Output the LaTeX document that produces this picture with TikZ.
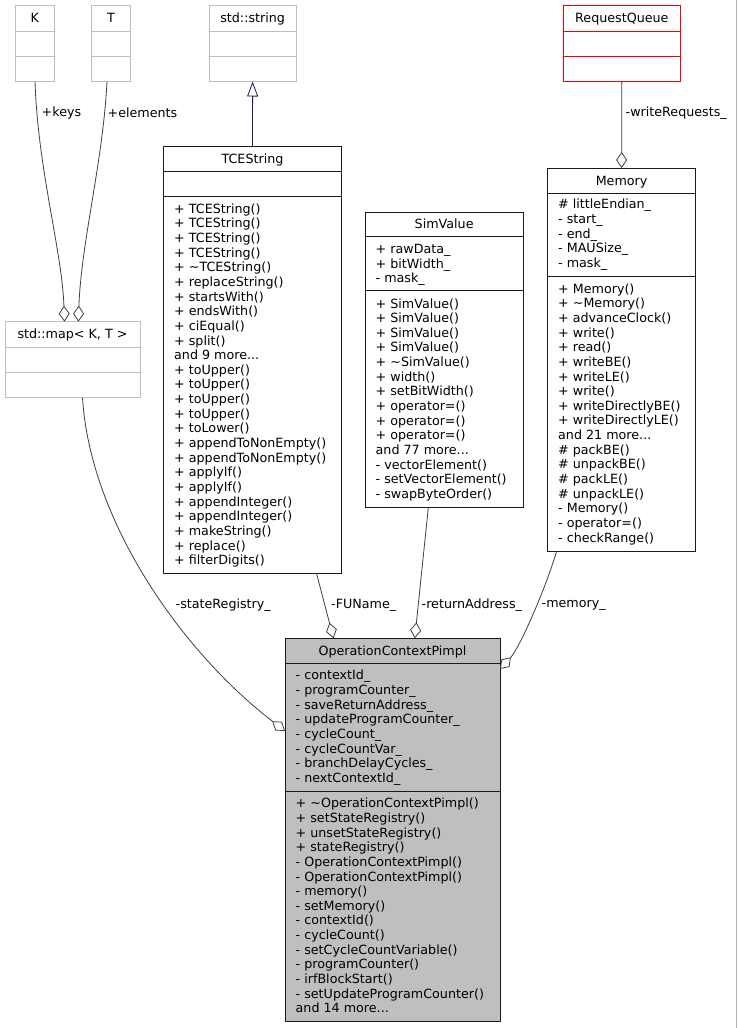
\documentclass[tikz,border=0pt]{standalone}
\usepackage{fontspec}
\setmainfont{DejaVu Sans}
\usetikzlibrary{arrows.meta,calc}
\newcommand\fs{\fontsize{12.7}{14.64}\selectfont}
\newcommand\compdiv[3]{\draw[#1,line width=1pt] ($(#2.north west)+(0,#3)$) -- ($(#2.north east)+(0,#3)$);}
\definecolor{edgegray}{HTML}{404040}
\definecolor{boxgray}{HTML}{BFBFBF}
\definecolor{ocpfill}{HTML}{BFBFBF}
\definecolor{navyedge}{HTML}{191970}
\definecolor{rqred}{HTML}{FF0000}
\definecolor{dark}{HTML}{1A1A1A}
\begin{document}
\begin{tikzpicture}[x=1pt,y=-1pt,
  box/.style={draw=dark, line width=1pt, anchor=north west, inner sep=0pt, outer sep=0pt, fill=white},
  gbox/.style={box, draw=boxgray},
  rbox/.style={box, draw=rqred},
  ttl/.style={anchor=base, inner sep=0pt, font=\fs},
  txt/.style={anchor=north west, inner sep=0pt, align=left, font=\fs},
  lbl/.style={anchor=west, inner sep=0pt, font=\fs},
  agg/.style={draw=edgegray, line width=0.8pt, -{Diamond[open,length=16pt,width=11pt]}},
  inh/.style={draw=navyedge, line width=0.8pt, -{Triangle[open,length=15pt,width=11pt]}}
]
\useasboundingbox (0,0) rectangle (737,1028);
\fill[white] (0,0) rectangle (737,1028);
\draw[gray!60, line width=1pt] (736.5,0) -- (736.5,1028);

% K
\node[gbox, minimum width=38.8pt, minimum height=76pt] (k) at (15.5,5.5) {};
\compdiv{boxgray}{k}{26}\compdiv{boxgray}{k}{51}
\node[ttl] (kt) at (34.9,22.3) {K};
% T
\node[gbox, minimum width=38.6pt, minimum height=76pt] (t) at (91.7,5.5) {};
\compdiv{boxgray}{t}{26}\compdiv{boxgray}{t}{51}
\node[ttl] (tt) at (111,22.3) {T};
% std::string
\node[gbox, minimum width=86.7pt, minimum height=76pt] (str) at (209.3,5.5) {};
\compdiv{boxgray}{str}{26}\compdiv{boxgray}{str}{51}
\node[ttl] (strt) at (252.65,22.3) {std::string};
% RequestQueue
\node[rbox, minimum width=117.7pt, minimum height=76pt] (rq) at (563,5.5) {};
\compdiv{rqred}{rq}{26}\compdiv{rqred}{rq}{51}
\node[ttl] (rqt) at (621.85,22.3) {RequestQueue};
% std::map
\node[gbox, minimum width=135pt, minimum height=76pt] (map) at (5,321.7) {};
\compdiv{boxgray}{map}{25.6}\compdiv{boxgray}{map}{50.6}
\node[ttl] (mapt) at (72.5,338.8) {std::map< K, T >};

% TCEString
\node[box, minimum width=178pt, minimum height=427.3pt] (tce) at (163.5,146) {};
\compdiv{dark}{tce}{25.7}\compdiv{dark}{tce}{50.7}
\node[ttl] (tcet) at (252.5,163.1) {TCEString};
\node[txt] (tcem) at (174,202.1) {\rule{0pt}{11pt}+ TCEString()\\
+ TCEString()\\
+ TCEString()\\
+ TCEString()\\
+ \textasciitilde TCEString()\\
+ replaceString()\\
+ startsWith()\\
+ endsWith()\\
+ ciEqual()\\
+ split()\\
and 9 more...\\
+ toUpper()\\
+ toUpper()\\
+ toUpper()\\
+ toUpper()\\
+ toLower()\\
+ appendToNonEmpty()\\
+ appendToNonEmpty()\\
+ applyIf()\\
+ applyIf()\\
+ appendInteger()\\
+ appendInteger()\\
+ makeString()\\
+ replace()\\
+ filterDigits()};

% SimValue
\node[box, minimum width=158.3pt, minimum height=295.4pt] (sim) at (365,212.3) {};
\compdiv{dark}{sim}{24.4}\compdiv{dark}{sim}{78.4}
\node[ttl] (simt) at (444.15,228.8) {SimValue};
\node[txt] (sima) at (375.5,242.4) {\rule{0pt}{11pt}+ rawData\_\\
+ bitWidth\_\\
- mask\_};
\node[txt] (simm) at (375.5,296.8) {\rule{0pt}{11pt}+ SimValue()\\
+ SimValue()\\
+ SimValue()\\
+ SimValue()\\
+ \textasciitilde SimValue()\\
+ width()\\
+ setBitWidth()\\
+ operator=()\\
+ operator=()\\
+ operator=()\\
and 77 more...\\
- vectorElement()\\
- setVectorElement()\\
- swapByteOrder()};

% Memory
\node[box, minimum width=148.2pt, minimum height=383.7pt] (mem) at (547.5,168) {};
\compdiv{dark}{mem}{25.3}\compdiv{dark}{mem}{108.7}
\node[ttl] (memt) at (621.6,185) {Memory};
\node[txt] (mema) at (558,197.6) {\rule{0pt}{11pt}\# littleEndian\_\\
- start\_\\
- end\_\\
- MAUSize\_\\
- mask\_};
\node[txt] (memm) at (558,282) {\rule{0pt}{11pt}+ Memory()\\
+ \textasciitilde Memory()\\
+ advanceClock()\\
+ write()\\
+ read()\\
+ writeBE()\\
+ writeLE()\\
+ write()\\
+ writeDirectlyBE()\\
+ writeDirectlyLE()\\
and 21 more...\\
\# packBE()\\
\# unpackBE()\\
\# packLE()\\
\# unpackLE()\\
- Memory()\\
- operator=()\\
- checkRange()};

% OperationContextPimpl
\node[box, fill=ocpfill, minimum width=215pt, minimum height=383.4pt] (ocp) at (285,638.3) {};
\compdiv{dark}{ocp}{25}\compdiv{dark}{ocp}{153.4}
\node[ttl] (ocpt) at (392.5,655.1) {OperationContextPimpl};
\node[txt] (ocpa) at (295.5,668.6) {\rule{0pt}{11pt}- contextId\_\\
- programCounter\_\\
- saveReturnAddress\_\\
- updateProgramCounter\_\\
- cycleCount\_\\
- cycleCountVar\_\\
- branchDelayCycles\_\\
- nextContextId\_};
\node[txt] (ocpm) at (295.5,796.6) {\rule{0pt}{11pt}+ \textasciitilde OperationContextPimpl()\\
+ setStateRegistry()\\
+ unsetStateRegistry()\\
+ stateRegistry()\\
- OperationContextPimpl()\\
- OperationContextPimpl()\\
- memory()\\
- setMemory()\\
- contextId()\\
- cycleCount()\\
- setCycleCountVariable()\\
- programCounter()\\
- irfBlockStart()\\
- setUpdateProgramCounter()\\
and 14 more...};

% connectors
\draw[agg] ($(k.south)+(0.1,0)$) .. controls +(3,89) and +(-2.5,-71) .. ($(map.north west)+(59.5,0)$);
\draw[agg] ($(t.south)+(-4,0)$) .. controls +(-4,80) and +(3,-80) .. ($(map.north west)+(73.3,0)$);
\draw[inh] (tce.north) -- (str.south);
\draw[agg] (rq.south) -- (mem.north);
\draw[agg] ($(map.south west)+(77.5,0)$) .. controls +(7.5,122) and +(-105,-81) .. ($(ocp.north west)+(0,92.7)$);
\draw[agg] ($(tce.south west)+(153,0)$) -- ($(ocp.north west)+(48.5,0)$);
\draw[agg] ($(sim.south west)+(63.3,0)$) -- ($(ocp.north west)+(129.8,0)$);
\draw[agg] ($(mem.south west)+(9,0)$) .. controls +(-11.5,38.3) and +(19.5,-21) .. ($(ocp.north east)+(0,30.7)$);

% labels
\node[lbl] (lk) at (41.5,112.7) {+keys};
\node[lbl] (le) at (107.5,112.7) {+elements};
\node[lbl] (lw) at (625.5,112.7) {-writeRequests\_};
\node[lbl] (ls) at (175.5,605) {-stateRegistry\_};
\node[lbl] (lf) at (331,605) {-FUName\_};
\node[lbl] (lr) at (421.5,605) {-returnAddress\_};
\node[lbl] (lm) at (541.5,605) {-memory\_};
\end{tikzpicture}
\end{document}
